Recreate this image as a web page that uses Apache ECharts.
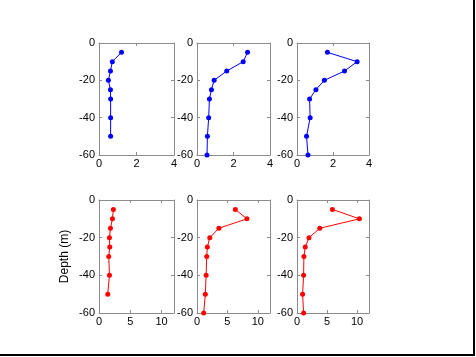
<!DOCTYPE html>
<html><head><meta charset="utf-8">
<script src="https://cdn.jsdelivr.net/npm/echarts@6/dist/echarts.min.js"></script>
<style>html,body{margin:0;padding:0;background:#fff}#c{width:476px;height:357px}</style>
</head><body><div id="c"></div>
<script>
const depthsTop1 = [-5,-10,-15,-20,-25,-30,-40,-50];
const valsTop1 = [1.2,0.71,0.61,0.5,0.61,0.62,0.62,0.62];
const depthsTop2 = [-5,-10,-15,-20,-25,-30,-40,-50,-60];
const valsTop2 = [2.77,2.53,1.63,0.94,0.79,0.68,0.64,0.57,0.55];
const depthsTop3 = [-5,-10,-15,-20,-25,-30,-40,-50,-60];
const valsTop3 = [1.69,3.34,2.64,1.52,1.05,0.70,0.73,0.53,0.61];
const depthsBot1 = [-5,-10,-15,-20,-25,-30,-40,-50];
const valsBot1 = [2.3,2.15,1.83,1.67,1.72,1.56,1.67,1.4];
const depthsBot2 = [-5,-10,-15,-20,-25,-30,-40,-50,-60];
const valsBot2 = [6.3,8.2,3.6,2.1,1.7,1.6,1.5,1.37,1.1];
const depthsBot3 = [-5,-10,-15,-20,-25,-30,-40,-50,-60];
const valsBot3 = [5.9,10.4,3.8,2.0,1.37,1.15,1.1,0.93,1.1];
const topXTicks = [0,2,4];
const botXTicks = [0,5,10];
const depthTicks = [-60,-40,-20,0];
const yLabel = 'Depth (m)';

const panels = [
  {d: depthsTop1, v: valsTop1, color:'#0000ff', xmax:4, xint:2},
  {d: depthsTop2, v: valsTop2, color:'#0000ff', xmax:4, xint:2},
  {d: depthsTop3, v: valsTop3, color:'#0000ff', xmax:4, xint:2},
  {d: depthsBot1, v: valsBot1, color:'#ff0000', xmax:12, xint:5},
  {d: depthsBot2, v: valsBot2, color:'#ff0000', xmax:12, xint:5},
  {d: depthsBot3, v: valsBot3, color:'#ff0000', xmax:12, xint:5}
];
const gridPos = [
  {left:99, top:43, width:75, height:112},
  {left:197, top:43, width:73, height:112},
  {left:297, top:43, width:72, height:112},
  {left:99, top:200, width:75, height:113},
  {left:197, top:200, width:73, height:113},
  {left:297, top:200, width:72, height:113}
];
const FONT = 'Liberation Sans';
const frame = '#8c8c8c';
const grid=[], xAxis=[], yAxis=[], series=[];
panels.forEach((p,i)=>{
  grid.push(Object.assign({show:false, containLabel:false}, gridPos[i]));
  const xticks = i<3 ? topXTicks : botXTicks;
  xAxis.push({gridIndex:i, type:'value', min:0, max:p.xmax, interval:p.xint, position:'bottom',
    axisLine:{show:true, onZero:false, lineStyle:{color:frame, width:1}},
    axisTick:{show:true, inside:true, length:3, lineStyle:{color:frame}},
    axisLabel:{color:'#000', fontFamily:FONT, fontSize:11, margin:3, showMaxLabel:true,
      formatter:v=> xticks.indexOf(v)>=0 ? String(v) : ''},
    splitLine:{show:false}});
  xAxis.push({gridIndex:i, type:'value', min:0, max:p.xmax, interval:p.xint, position:'top',
    axisLine:{show:true, onZero:false, lineStyle:{color:frame, width:1}},
    axisTick:{show:true, inside:true, length:3, lineStyle:{color:frame}},
    axisLabel:{show:false}, splitLine:{show:false}});
  yAxis.push({gridIndex:i, type:'value', min:-60, max:0, interval:20, position:'left',
    axisLine:{show:true, onZero:false, lineStyle:{color:frame, width:1}},
    axisTick:{show:true, inside:true, length:3, lineStyle:{color:frame}},
    axisLabel:{color:'#000', fontFamily:FONT, fontSize:11, margin:4,
      formatter:v=> depthTicks.indexOf(v)>=0 ? String(v) : ''},
    splitLine:{show:false},
    name: i===3 ? yLabel : '', nameLocation:'middle', nameGap:28,
    nameTextStyle:{color:'#000', fontFamily:FONT, fontSize:12}});
  yAxis.push({gridIndex:i, type:'value', min:-60, max:0, interval:20, position:'right',
    axisLine:{show:true, onZero:false, lineStyle:{color:frame, width:1}},
    axisTick:{show:true, inside:true, length:3, lineStyle:{color:frame}},
    axisLabel:{show:false}, splitLine:{show:false}});
  series.push({type:'line', xAxisIndex:2*i, yAxisIndex:2*i,
    data: p.v.map((x,k)=>[x,p.d[k]]),
    symbol:'circle', symbolSize:5, showSymbol:true,
    lineStyle:{color:p.color, width:1}, itemStyle:{color:p.color},
    animation:false, silent:true});
});
const chart = echarts.init(document.getElementById('c'), null, {renderer:'canvas'});
chart.setOption({
  animation:false, backgroundColor:'#fff',
  grid, xAxis, yAxis, series,
  graphic:[
    {type:'line', shape:{x1:474,y1:0,x2:474,y2:356}, style:{stroke:'#000', lineWidth:2}},
    {type:'line', shape:{x1:0,y1:355,x2:475,y2:355}, style:{stroke:'#000', lineWidth:2}}
  ]
});
</script></body></html>
